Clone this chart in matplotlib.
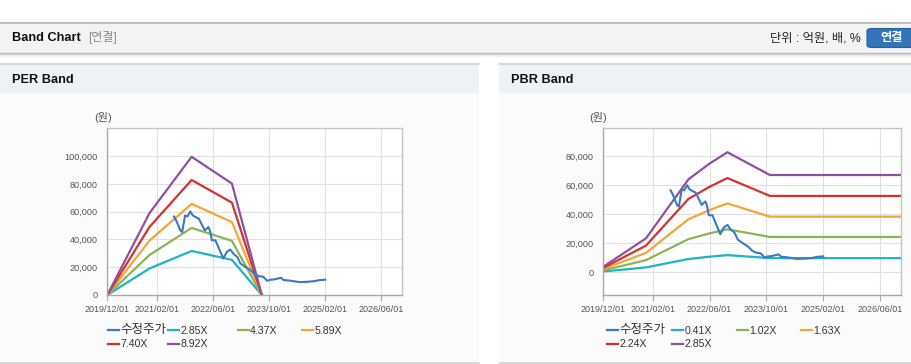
import matplotlib
matplotlib.use('Agg')
import matplotlib.pyplot as plt
from matplotlib.patches import Rectangle, FancyBboxPatch
from matplotlib.lines import Line2D
from matplotlib.ticker import FuncFormatter
import pandas as pd

plt.rcParams['font.family'] = ['Liberation Sans', 'Noto Sans CJK KR']

# 수정주가 (공통)
price_dates = ['2021-07-01', '2021-07-20', '2021-08-25', '2021-09-10', '2021-10-05', '2021-10-25',
               '2021-11-20', '2021-12-10', '2022-01-15', '2022-02-01', '2022-03-25', '2022-04-25',
               '2022-05-10', '2022-05-25', '2022-06-25', '2022-07-20', '2022-09-01', '2022-10-01',
               '2022-11-01', '2022-12-01', '2023-01-01', '2023-01-28', '2023-03-10', '2023-04-25',
               '2023-06-01', '2023-07-05', '2023-08-15', '2023-09-15', '2023-10-15', '2023-11-15',
               '2024-01-15', '2024-02-05', '2024-04-05', '2024-06-20', '2024-09-01', '2024-11-01',
               '2024-12-10', '2025-02-01']
price = [56500, 53700, 46500, 45300, 57300, 56500,
         60100, 57300, 55600, 55000, 46500, 48900,
         46000, 39400, 39400, 34600, 26300, 31000,
         32700, 29400, 27400, 22700, 20300, 17900,
         15000, 13600, 13100, 10300, 11000, 11200,
         12400, 10800, 10300, 9300, 9500, 10000,
         10700, 11000]

# PER band
per_dates = ['2019-12-01', '2020-12-01', '2021-12-01', '2022-11-15', '2023-08-01']
per_labels = ['2.85X', '4.37X', '5.89X', '7.40X', '8.92X']
per_285 = [0, 19100, 31700, 25300, 0]
per_437 = [0, 28800, 48300, 39000, 0]
per_589 = [0, 39200, 65600, 52500, 0]
per_740 = [0, 49000, 82800, 66500, 0]
per_892 = [0, 59000, 99500, 80200, 0]

# PBR band
pbr_dates = ['2019-12-01', '2020-12-01', '2021-12-01', '2022-06-01', '2022-11-01', '2023-11-01', '2026-12-01']
pbr_labels = ['0.41X', '1.02X', '1.63X', '2.24X', '2.85X']
pbr_041 = [600, 3400, 9200, 10800, 11900, 9800, 9800]
pbr_102 = [1400, 8400, 22900, 26900, 29700, 24400, 24400]
pbr_163 = [2300, 13400, 36600, 43000, 47500, 38400, 38400]
pbr_224 = [3100, 18400, 50600, 59000, 65000, 52700, 52700]
pbr_285 = [3900, 23400, 64100, 75000, 82800, 67100, 67100]

tick_dates = ['2019-12-01', '2021-02-01', '2022-06-01', '2023-10-01', '2025-02-01', '2026-06-01']

colors = ['#3a78c8', '#1fb3c6', '#8cb552', '#f4a634', '#d63131', '#91509f']

W, H = 912, 364
fig = plt.figure(figsize=(W / 100, H / 100), dpi=100)
fig.patch.set_facecolor('white')


def px_rect(x, y, w, h, **kw):
    fig.patches.append(Rectangle((x / W, 1 - (y + h) / H), w / W, h / H,
                                 transform=fig.transFigure, zorder=-10, **kw))


def px_hline(x0, x1, y, color, lw=1.0, alpha=1.0, z=-5):
    fig.add_artist(Line2D([x0 / W, x1 / W], [1 - y / H, 1 - y / H], color=color,
                          lw=lw, alpha=alpha, transform=fig.transFigure, zorder=z))


def px_text(x, y, s, **kw):
    fig.text(x / W, 1 - y / H, s, **kw)


# 상단 헤더
px_rect(0, 22, W, 31, facecolor='#f3f3f3', edgecolor='none')
px_hline(0, W, 22.5, '#b4b4b4', lw=1.2)
px_hline(0, W, 53, '#bdbdbd', lw=1.0)
for i, a in enumerate([0.25, 0.15, 0.08]):
    px_hline(0, W, 54 + i, '#888888', lw=0.8, alpha=a)
px_text(12, 38, 'Band Chart', fontsize=9.2, fontweight='bold', va='center', color='#111111')
px_text(88, 38, '[연결]', fontsize=8.6, va='center', color='#888888')
px_text(861, 38.5, '단위 : 억원, 배, %', fontsize=8.8, va='center', ha='right', color='#222222')
fig.patches.append(FancyBboxPatch((867 / W, 1 - 47.5 / H), 50 / W, 19 / H,
                                  boxstyle='round,pad=0,rounding_size=0.006',
                                  transform=fig.transFigure, facecolor='#3574b8',
                                  edgecolor='#2a5f9a', lw=0.8))
px_text(892, 38.5, '연결', fontsize=8.8, fontweight='bold', va='center', ha='center', color='white')

# 패널 배경
for x0, x1, title in [(0, 479, 'PER Band'), (499, W, 'PBR Band')]:
    px_rect(x0, 64, x1 - x0, 29, facecolor='#eef2f7', edgecolor='none')
    px_rect(x0, 93, x1 - x0, 269, facecolor='#fbfbfb', edgecolor='none')
    px_hline(x0, x1, 64, '#d2d2d2', lw=1.2)
    px_hline(x0, x1, 362.5, '#d0d0d0', lw=1.2)
    px_text(x0 + 12, 80, title, fontsize=9.2, fontweight='bold', va='center', color='#111111')

to_dt = lambda lst: pd.to_datetime(lst)


def style_axes(ax, ylim, yticks):
    ax.set_facecolor('white')
    ax.set_xlim(pd.Timestamp('2019-12-01'), pd.Timestamp('2026-12-01'))
    ax.set_ylim(*ylim)
    ax.set_xticks(to_dt(tick_dates))
    ax.set_xticklabels([d.replace('-', '/') for d in tick_dates])
    ax.set_yticks(yticks)
    ax.yaxis.set_major_formatter(FuncFormatter(lambda v, p: f'{int(v):,}'))
    ax.grid(True, color='#e0e0e0', lw=0.8)
    ax.set_axisbelow(True)
    for s in ['top', 'right']:
        ax.spines[s].set_color('#c4c4c4')
    for s in ['left', 'bottom']:
        ax.spines[s].set_color('#a8a8a8')
    for s in ax.spines.values():
        s.set_linewidth(1.0)
    ax.tick_params(axis='x', length=4, color='#a8a8a8', labelsize=6.5, labelcolor='#555555', pad=3)
    ax.tick_params(axis='y', length=0, labelsize=6.6, labelcolor='#555555', pad=7)


def legend(x_cols, labels):
    rows = [330, 343.5]
    for i, lab in enumerate(labels):
        r, c = divmod(i, 4)
        x, y = x_cols[c], rows[r]
        px_hline(x, x + 11, y, colors[i], lw=1.6, z=5)
        px_text(x + 12.5, y + 0.5, lab, fontsize=7.6 if i else 9, va='center', color='#333333')


# PER Band
ax1 = fig.add_axes([107.3 / W, 1 - 295 / H, 295 / W, 166.7 / H])
ax1.plot(to_dt(price_dates), price, color=colors[0], lw=1.5, zorder=5)
for vals, c in zip([per_285, per_437, per_589, per_740, per_892], colors[1:]):
    ax1.plot(to_dt(per_dates), vals, color=c, lw=1.6)
style_axes(ax1, (0, 120000), range(0, 100001, 20000))
px_text(103, 118, '(원)', fontsize=8, ha='center', va='center', color='#555555')
legend([107.7, 167.7, 237.7, 301.7], ['수정주가'] + per_labels)

# PBR Band
ax2 = fig.add_axes([603.3 / W, 1 - 295 / H, 297.7 / W, 166.7 / H])
ax2.plot(to_dt(price_dates), price, color=colors[0], lw=1.5, zorder=5)
for vals, c in zip([pbr_041, pbr_102, pbr_163, pbr_224, pbr_285], colors[1:]):
    ax2.plot(to_dt(pbr_dates), vals, color=c, lw=1.6)
style_axes(ax2, (-15600, 99300), range(0, 80001, 20000))
px_text(598, 118, '(원)', fontsize=8, ha='center', va='center', color='#555555')
legend([606.7, 671.7, 736.7, 801], ['수정주가'] + pbr_labels)

fig.savefig('out.png', dpi=100)
